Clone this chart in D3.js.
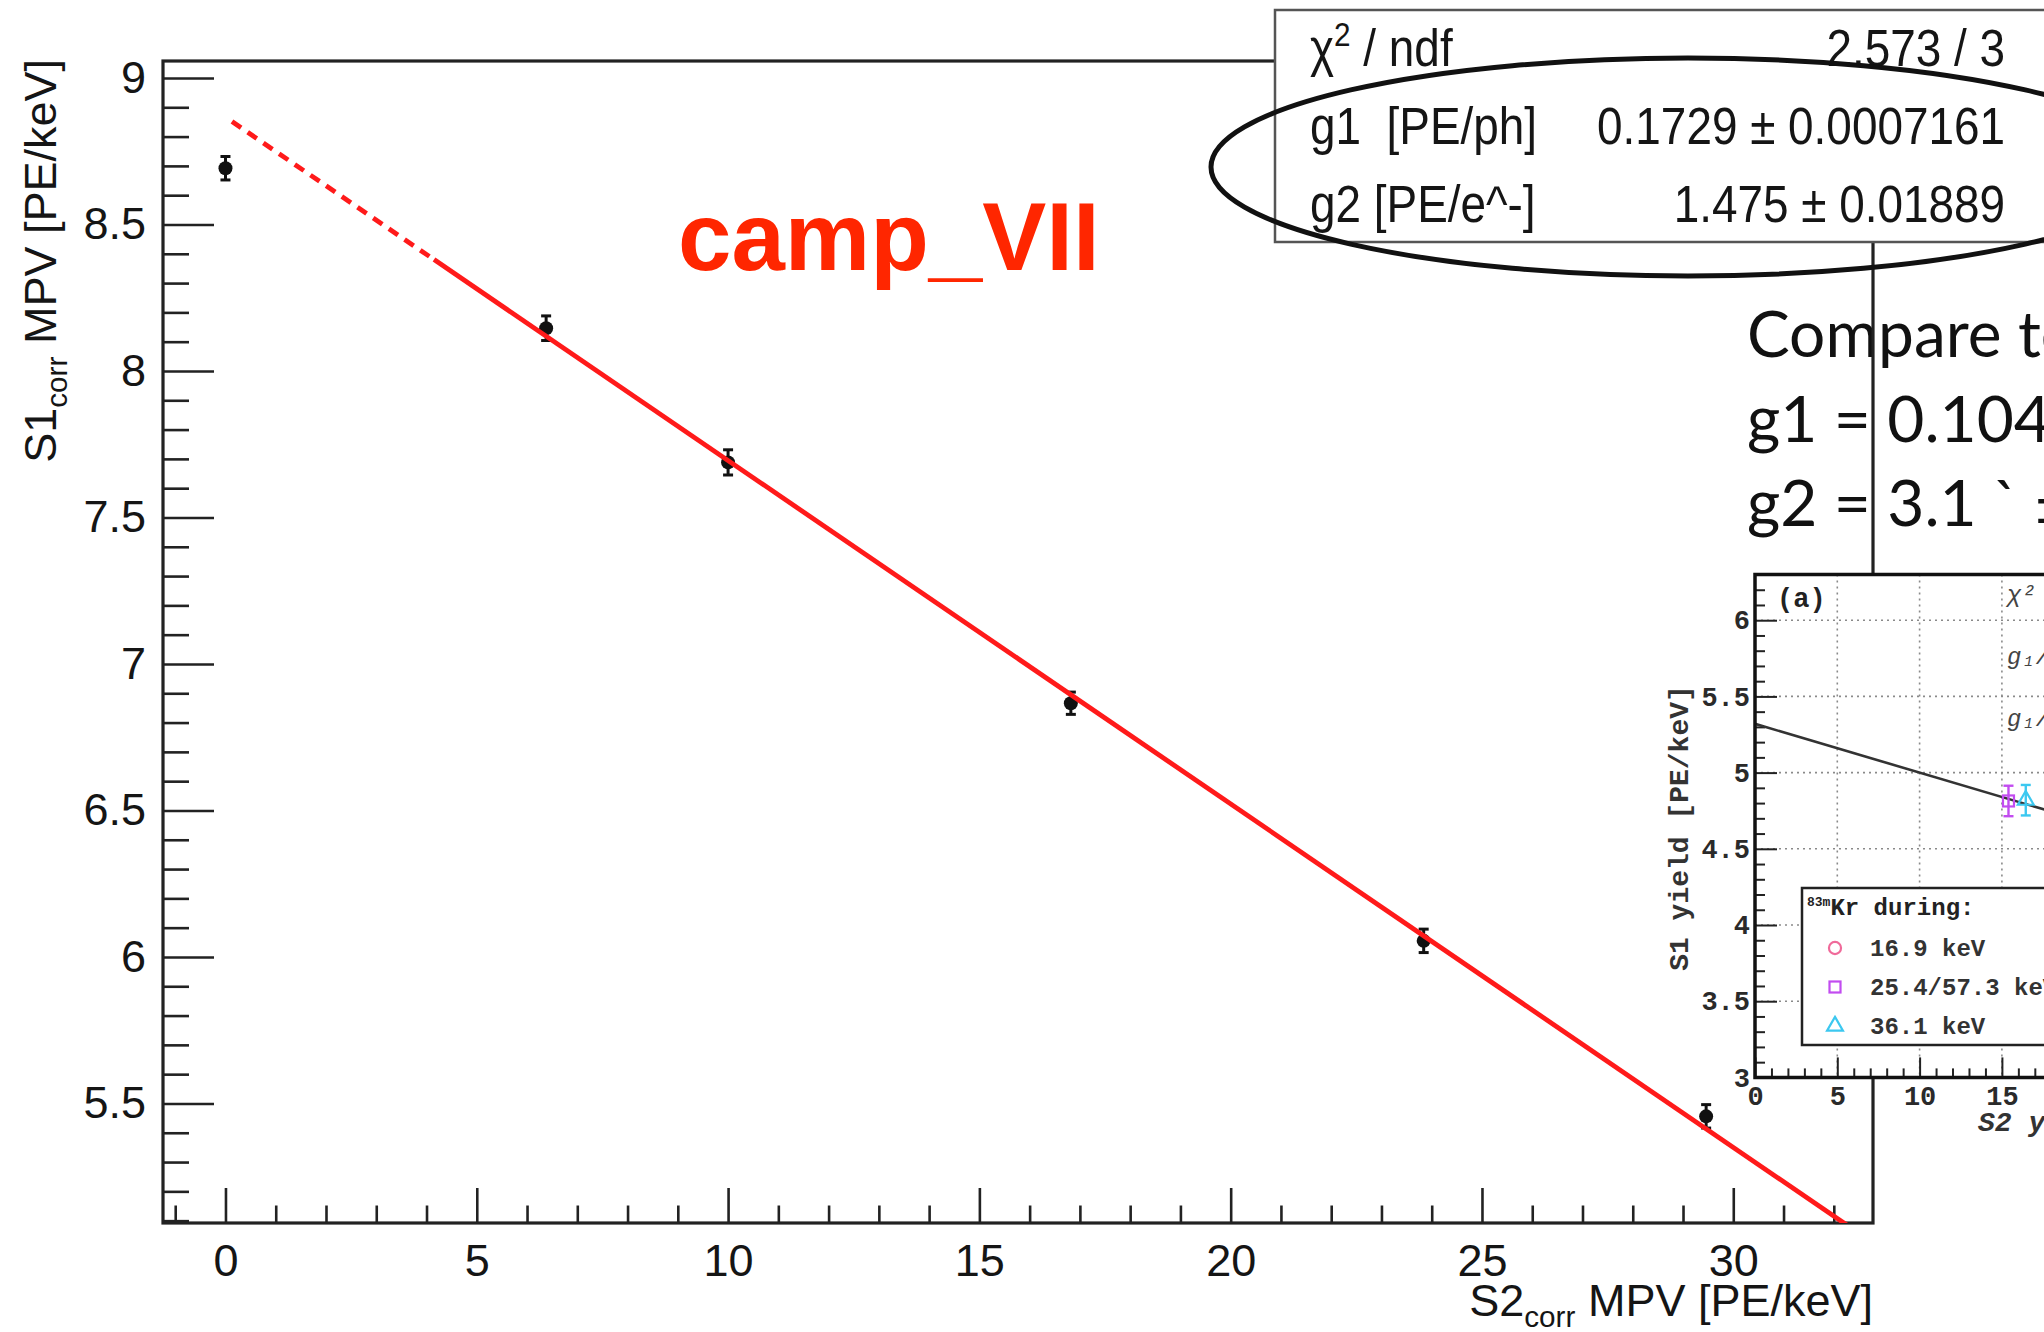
<!DOCTYPE html>
<html>
<head>
<meta charset="utf-8">
<script src="https://cdn.jsdelivr.net/npm/d3@7"></script>
<style>
  html, body { margin: 0; padding: 0; background: #fff; overflow: hidden; }
  svg { display: block; }
  svg text { white-space: pre; }
</style>
</head>
<body>
<svg id="chart" width="2044" height="1332"></svg>
<script>
// ---- Kr-83m calibration points (corrected MPVs per keV) ----
const s2Values = [0.0, 6.38, 10.0, 16.82, 23.84, 29.46];
const s1Values = [8.692, 8.146, 7.688, 6.866, 6.055, 5.456];
const s1Errors = [0.040, 0.042, 0.043, 0.038, 0.040, 0.040];

// ---- Doke-plot fit result ----
const statLabels = ["χ^{2} / ndf", "g1  [PE/ph]", "g2 [PE/e^-]"];
const statValues = ["2.573 / 3", "0.1729 ± 0.0007161", "1.475 ± 0.01889"];
const g1 = 0.1729;
const g2 = 1.475;
const wValue = 0.0195;              // keV per quantum
const fitRange = [4.15, 33.0];      // solid part of the fit line
const extrapRange = [0.13, 4.15];   // dashed extrapolation toward S2 = 0

// ---- axis ticks ----
const xMajorTicks = [0, 5, 10, 15, 20, 25, 30];
const xTickLabels = ["0", "5", "10", "15", "20", "25", "30"];
const yMajorTicks = [5.5, 6, 6.5, 7, 7.5, 8, 8.5, 9];
const yTickLabels = ["5.5", "6", "6.5", "7", "7.5", "8", "8.5", "9"];

// ---- comparison note ----
const compareLines = ["Compare to", "g1 = 0.104", "g2 = 3.1 ` ±"];

// ---- small reference panel (a) ----
const insetS2 = [15.4, 16.45];
const insetS1 = [4.814, 4.819];
const insetErr = [0.10, 0.10];
const insetColors = ["#c24cf0", "#3cc8f0"];
const insetShapes = ["square", "triangle"];
const insetFitIntercept = 5.32;
const insetFitSlope = -0.032;
const insetYTicks = [3, 3.5, 4, 4.5, 5, 5.5, 6];
const insetYLabels = ["3", "3.5", "4", "4.5", "5", "5.5", "6"];
const insetXTicks = [0, 5, 10, 15];
const insetXLabels = ["0", "5", "10", "15"];
const legendLabels = ["16.9 keV", "25.4/57.3 keV", "36.1 keV"];
const legendColors = ["#f06a9a", "#c24cf0", "#3cc8f0"];
const legendShapes = ["circle", "square", "triangle"];
const insetStatLabels = ["χ² / ndf", "g₁/W", "g₁/g₂"];

const svg = d3.select("#chart");
svg.append("rect").attr("width", 2044).attr("height", 1332).attr("fill", "#fff");

const rootFont = "'Liberation Sans', Arial, Helvetica, sans-serif";
const monoFont = "'Liberation Mono', 'DejaVu Sans Mono', monospace";

// ---------- comparison note (slide text) ----------
const note = svg.append("g")
  .attr("font-family", "Lato, 'Open Sans', sans-serif")
  .attr("font-size", 64)
  .attr("fill", "#111");
const noteBaselines = [357, 442, 526];
note.selectAll("text").data(compareLines).join("text")
  .attr("x", 1747)
  .attr("y", (d, i) => noteBaselines[i])
  .text(d => d);

// ---------- main plot ----------
const frame = { left: 163, top: 61, right: 1873, bottom: 1223 };
const x = d3.scaleLinear().domain([-1.243, 32.78]).range([frame.left, frame.right]);
const y = d3.scaleLinear().domain([5.092, 9.058]).range([frame.bottom, frame.top]);

const plot = svg.append("g").attr("font-family", rootFont);

svg.append("defs").append("clipPath").attr("id", "frameClip")
  .append("rect")
  .attr("x", frame.left).attr("y", frame.top)
  .attr("width", frame.right - frame.left).attr("height", frame.bottom - frame.top);

function styleAxis(g, fontSize) {
  g.select(".domain").remove();
  g.selectAll(".tick line").attr("stroke", "#222").attr("stroke-width", 2.6);
  g.attr("font-family", rootFont).attr("font-size", fontSize).attr("color", "#151515");
}

const xMinor = d3.range(-1, 33).filter(v => v % 5 !== 0);
const yMinor = d3.range(51, 91).filter(v => v % 5 !== 0).map(v => v / 10);

plot.append("g").attr("transform", `translate(0,${frame.bottom})`)
  .call(d3.axisBottom(x).tickValues(xMinor).tickSizeInner(-17.5).tickSizeOuter(0).tickFormat(""))
  .call(g => styleAxis(g, 45));
plot.append("g").attr("transform", `translate(0,${frame.bottom})`)
  .call(d3.axisBottom(x).tickValues(xMajorTicks).tickSizeInner(-35).tickSizeOuter(0)
    .tickPadding(21).tickFormat((d, i) => xTickLabels[i]))
  .call(g => styleAxis(g, 45));

plot.append("g").attr("transform", `translate(${frame.left},0)`)
  .call(d3.axisLeft(y).tickValues(yMinor).tickSizeInner(-26).tickSizeOuter(0).tickFormat(""))
  .call(g => styleAxis(g, 45));
plot.append("g").attr("transform", `translate(${frame.left},0)`)
  .call(d3.axisLeft(y).tickValues(yMajorTicks).tickSizeInner(-51).tickSizeOuter(0)
    .tickPadding(17).tickFormat((d, i) => yTickLabels[i]))
  .call(g => styleAxis(g, 45));

// frame box
plot.append("rect")
  .attr("x", frame.left).attr("y", frame.top)
  .attr("width", frame.right - frame.left).attr("height", frame.bottom - frame.top)
  .attr("fill", "none").attr("stroke", "#222").attr("stroke-width", 3.2);

// axis titles with "corr" subscript
function titleWithSub(sel, main, sub, rest, size) {
  sel.append("tspan").text(main);
  sel.append("tspan").attr("font-size", size * 0.66).attr("dy", size * 0.24).text(sub);
  sel.append("tspan").attr("dy", -size * 0.24).text(rest);
}
const yTitle = plot.append("text")
  .attr("transform", "translate(56,59) rotate(-90)")
  .attr("text-anchor", "end").attr("font-size", 45).attr("fill", "#151515");
titleWithSub(yTitle, "S1", "corr", " MPV [PE/keV]", 45);

const xTitle = plot.append("text")
  .attr("x", frame.right).attr("y", 1316)
  .attr("text-anchor", "end").attr("font-size", 45).attr("fill", "#151515");
titleWithSub(xTitle, "S2", "corr", " MPV [PE/keV]", 45);

// data points with error bars, then the fit on top
const inner = plot.append("g").attr("clip-path", "url(#frameClip)");
const pts = s2Values.map((v, i) => ({ x: v, y: s1Values[i], e: s1Errors[i] }));
const pg = inner.append("g").attr("stroke", "#111").attr("stroke-width", 3);
pg.selectAll("line.err").data(pts).join("line").attr("class", "err")
  .attr("x1", d => x(d.x)).attr("x2", d => x(d.x))
  .attr("y1", d => y(d.y - d.e)).attr("y2", d => y(d.y + d.e));
pg.selectAll("line.capTop").data(pts).join("line").attr("class", "capTop")
  .attr("x1", d => x(d.x) - 5).attr("x2", d => x(d.x) + 5)
  .attr("y1", d => y(d.y + d.e)).attr("y2", d => y(d.y + d.e));
pg.selectAll("line.capBot").data(pts).join("line").attr("class", "capBot")
  .attr("x1", d => x(d.x) - 5).attr("x2", d => x(d.x) + 5)
  .attr("y1", d => y(d.y - d.e)).attr("y2", d => y(d.y - d.e));
inner.append("g").selectAll("circle").data(pts).join("circle")
  .attr("cx", d => x(d.x)).attr("cy", d => y(d.y)).attr("r", 7).attr("fill", "#111");

const fitFn = v => g1 / wValue - (g1 / g2) * v;
const fitLine = d3.line().x(d => x(d)).y(d => y(fitFn(d)));
inner.append("path").attr("d", fitLine(extrapRange))
  .attr("fill", "none").attr("stroke", "#ff1a1a").attr("stroke-width", 4.8)
  .attr("stroke-dasharray", "11 8");
inner.append("path").attr("d", fitLine(fitRange))
  .attr("fill", "none").attr("stroke", "#ff1a1a").attr("stroke-width", 4.8);

// ---------- reference panel (a) ----------
const inset = svg.append("g").attr("font-family", monoFont).attr("font-weight", "bold").attr("fill", "#222");
const ix = d3.scaleLinear().domain([0, 21]).range([1755, 1755 + 21 * 16.46]);
const iy = d3.scaleLinear().domain([3, 6.3]).range([1077.4, 574.5]);
const iFrame = { left: 1755, top: 574.5, right: 2100, bottom: 1077.4 };

svg.select("defs").append("clipPath").attr("id", "insetClip")
  .append("rect").attr("x", iFrame.left).attr("y", iFrame.top)
  .attr("width", iFrame.right - iFrame.left).attr("height", iFrame.bottom - iFrame.top);

inset.append("rect").attr("x", iFrame.left).attr("y", iFrame.top)
  .attr("width", iFrame.right - iFrame.left).attr("height", iFrame.bottom - iFrame.top)
  .attr("fill", "#fff");

// dotted grid
const grid = inset.append("g").attr("stroke", "#8a8a8a").attr("stroke-width", 1.6)
  .attr("stroke-dasharray", "2 4");
grid.selectAll("line.gx").data(insetXTicks.slice(1)).join("line").attr("class", "gx")
  .attr("x1", d => ix(d)).attr("x2", d => ix(d)).attr("y1", iFrame.top).attr("y2", iFrame.bottom);
grid.selectAll("line.gy").data(insetYTicks.slice(1)).join("line").attr("class", "gy")
  .attr("x1", iFrame.left).attr("x2", iFrame.right).attr("y1", d => iy(d)).attr("y2", d => iy(d));

// ticks
function styleInsetAxis(g) {
  g.select(".domain").remove();
  g.selectAll(".tick line").attr("stroke", "#222").attr("stroke-width", 2);
  g.attr("font-family", monoFont).attr("font-weight", "bold").attr("font-size", 27).attr("color", "#2a2a2a");
}
const iyMinor = d3.range(30, 64).filter(v => v % 5 !== 0).map(v => v / 10);
const ixMinor = d3.range(1, 21).filter(v => v % 5 !== 0);
inset.append("g").attr("transform", `translate(${iFrame.left},0)`)
  .call(d3.axisLeft(iy).tickValues(iyMinor).tickSizeInner(-10).tickSizeOuter(0).tickFormat(""))
  .call(styleInsetAxis);
inset.append("g").attr("transform", `translate(${iFrame.left},0)`)
  .call(d3.axisLeft(iy).tickValues(insetYTicks).tickSizeInner(-22).tickSizeOuter(0)
    .tickPadding(5).tickFormat((d, i) => insetYLabels[i]))
  .call(styleInsetAxis);
inset.append("g").attr("transform", `translate(0,${iFrame.bottom})`)
  .call(d3.axisBottom(ix).tickValues(ixMinor).tickSizeInner(-9).tickSizeOuter(0).tickFormat(""))
  .call(styleInsetAxis);
inset.append("g").attr("transform", `translate(0,${iFrame.bottom})`)
  .call(d3.axisBottom(ix).tickValues(insetXTicks).tickSizeInner(-20).tickSizeOuter(0)
    .tickPadding(8).tickFormat((d, i) => insetXLabels[i]))
  .call(styleInsetAxis);

// fit line and points
const insetInner = inset.append("g").attr("clip-path", "url(#insetClip)");
insetInner.append("path")
  .attr("d", d3.line().x(d => ix(d)).y(d => iy(insetFitIntercept + insetFitSlope * d))([0, 21]))
  .attr("fill", "none").attr("stroke", "#333").attr("stroke-width", 2.6);

function drawMarker(g, shape, cx, cy, color, size) {
  if (shape === "circle") {
    g.append("circle").attr("cx", cx).attr("cy", cy).attr("r", size * 0.55)
      .attr("fill", "none").attr("stroke", color).attr("stroke-width", 2.2);
  } else if (shape === "square") {
    g.append("rect").attr("x", cx - size / 2).attr("y", cy - size / 2)
      .attr("width", size).attr("height", size)
      .attr("fill", "none").attr("stroke", color).attr("stroke-width", 2.2);
  } else {
    const sym = d3.symbol().type(d3.symbolTriangle).size(size * size * 0.9);
    g.append("path").attr("d", sym()).attr("transform", `translate(${cx},${cy})`)
      .attr("fill", "none").attr("stroke", color).attr("stroke-width", 2.2);
  }
}
insetS2.forEach((v, i) => {
  const cx = ix(v), cy = iy(insetS1[i]);
  const c = insetColors[i];
  insetInner.append("line").attr("x1", cx).attr("x2", cx)
    .attr("y1", iy(insetS1[i] - insetErr[i])).attr("y2", iy(insetS1[i] + insetErr[i]))
    .attr("stroke", c).attr("stroke-width", 2.4);
  [insetErr[i], -insetErr[i]].forEach(e => {
    insetInner.append("line").attr("x1", cx - 5).attr("x2", cx + 5)
      .attr("y1", iy(insetS1[i] + e)).attr("y2", iy(insetS1[i] + e))
      .attr("stroke", c).attr("stroke-width", 2.4);
  });
  drawMarker(insetInner, insetShapes[i], cx, cy, c, 11);
});

// panel label and fit box text (extends past the page edge)
inset.append("text").attr("x", 1777).attr("y", 607).attr("font-size", 27).text("(a)");
const insetStatY = [602, 664, 726];
inset.selectAll("text.istat").data(insetStatLabels).join("text").attr("class", "istat")
  .attr("x", 2007).attr("y", (d, i) => insetStatY[i])
  .attr("font-size", 24).attr("font-style", "italic").attr("font-weight", "normal")
  .attr("fill", "#444").text(d => d);

// legend
const leg = inset.append("g");
leg.append("rect").attr("x", 1802).attr("y", 888).attr("width", 300).attr("height", 157)
  .attr("fill", "#fff").attr("stroke", "#222").attr("stroke-width", 2.5);
const legTitle = leg.append("text").attr("x", 1807).attr("y", 915).attr("font-size", 24);
legTitle.append("tspan").attr("font-size", 13).attr("dy", -9).text("83m");
legTitle.append("tspan").attr("dy", 9).text("Kr during:");
const legY = [948, 987, 1026];
legendLabels.forEach((lab, i) => {
  drawMarker(leg, legendShapes[i], 1835, legY[i], legendColors[i], 11);
  leg.append("text").attr("x", 1870).attr("y", legY[i] + 8).attr("font-size", 24)
    .attr("fill", "#333").text(lab);
});

// frame of panel
inset.append("path")
  .attr("d", `M${iFrame.right},${iFrame.top}H${iFrame.left}V${iFrame.bottom}H${iFrame.right}`)
  .attr("fill", "none").attr("stroke", "#111").attr("stroke-width", 3.5);

// panel axis titles
inset.append("text")
  .attr("transform", "translate(1688,828) rotate(-90)")
  .attr("text-anchor", "middle").attr("font-size", 28).attr("fill", "#333")
  .text("S1 yield [PE/keV]");
inset.append("text").attr("x", 1978).attr("y", 1131).attr("font-size", 28)
  .attr("font-style", "italic").attr("fill", "#333").text("S2 yield [PE/keV]");

// ---------- fit statistics box ----------
// ROOT stat-box text is slightly condensed: taller glyphs, same line width
const statScaleX = 0.9;
const stats = svg.append("g").attr("font-family", rootFont).attr("font-size", 51).attr("fill", "#151515");
stats.append("rect").attr("x", 1275).attr("y", 10).attr("width", 820).attr("height", 232)
  .attr("fill", "#fff").attr("stroke", "#555").attr("stroke-width", 2.5);
const statBaselines = [66, 144, 222];
statLabels.forEach((lab, i) => {
  const t = stats.append("text")
    .attr("transform", `translate(1310,${statBaselines[i]}) scale(${statScaleX},1)`);
  // "^{...}" marks a superscript
  const parts = lab.split(/\^\{([^}]*)\}/);
  parts.forEach((p, k) => {
    if (k % 2 === 1) {
      t.append("tspan").attr("font-size", 33).attr("dy", -20).text(p);
    } else if (p.length) {
      t.append("tspan").attr("dy", k > 0 ? 20 : 0).text(p);
    }
  });
  stats.append("text")
    .attr("transform", `translate(2005,${statBaselines[i]}) scale(${statScaleX},1)`)
    .attr("text-anchor", "end").text(statValues[i]);
});

// ---------- annotation ----------
svg.append("ellipse")
  .attr("cx", 1688).attr("cy", 167).attr("rx", 477).attr("ry", 109)
  .attr("fill", "none").attr("stroke", "#111").attr("stroke-width", 5);

svg.append("text")
  .attr("x", 678).attr("y", 270)
  .attr("font-family", rootFont).attr("font-weight", "bold").attr("font-size", 96)
  .attr("fill", "#ff2600")
  .text("camp_VII");
</script>
</body>
</html>
